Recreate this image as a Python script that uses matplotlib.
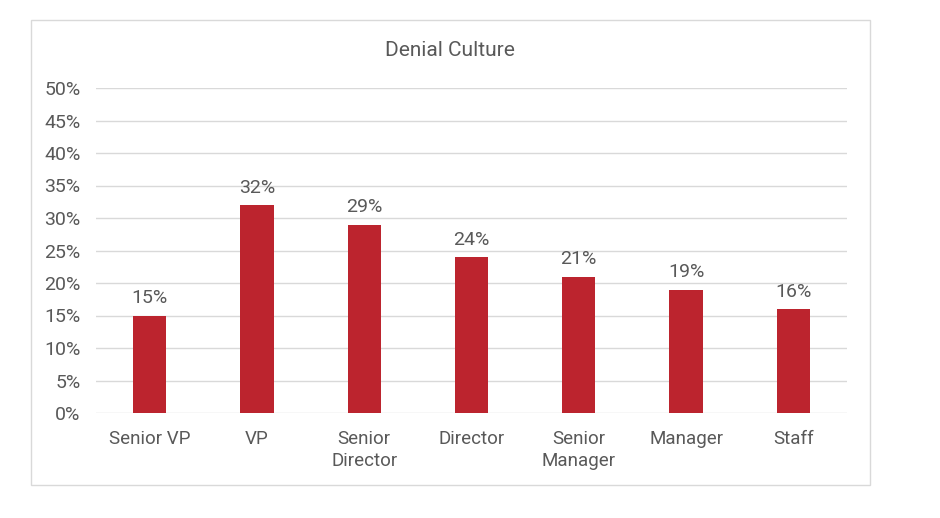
import matplotlib.pyplot as plt
from matplotlib.patches import Rectangle
from matplotlib.ticker import MultipleLocator, FuncFormatter

# Chart data
categories = ["Senior VP", "VP", "Senior\nDirector", "Director",
              "Senior\nManager", "Manager", "Staff"]
values = [15, 32, 29, 24, 21, 19, 16]

BAR_COLOR = "#BC242E"
TEXT_COLOR = "#595959"
GRID_COLOR = "#D9D9D9"

plt.rcParams["font.family"] = ["Roboto", "DejaVu Sans"]

fig = plt.figure(figsize=(9.4, 5.18), dpi=100)
fig.patch.set_facecolor("white")

# Outer chart border
fig.patches.append(Rectangle((31 / 940, 1 - 485 / 518), 839 / 940, 465 / 518,
                             transform=fig.transFigure, fill=False,
                             edgecolor=GRID_COLOR, linewidth=1.0))

ax = fig.add_axes([96 / 940, 1 - 413 / 518, 751 / 940, 325 / 518])

x = range(len(categories))
bars = ax.bar(x, values, width=0.31, color=BAR_COLOR, zorder=3)

for b, v in zip(bars, values):
    ax.annotate(f"{v}%", (b.get_x() + b.get_width() / 2, v),
                xytext=(0, 6), textcoords="offset points",
                ha="center", va="bottom", fontsize=14, color=TEXT_COLOR)

ax.set_ylim(0, 50)
ax.set_xlim(-0.5, len(categories) - 0.5)
ax.yaxis.set_major_locator(MultipleLocator(5))
ax.yaxis.set_major_formatter(FuncFormatter(lambda v, p: f"{v:.0f}%"))
ax.grid(axis="y", color=GRID_COLOR, linewidth=1.0, zorder=0)

ax.set_xticks(list(x))
ax.set_xticklabels(categories, fontsize=13.5, color=TEXT_COLOR, linespacing=1.3)
ax.tick_params(axis="x", length=0, pad=12)
ax.tick_params(axis="y", length=0, pad=11, labelsize=14, labelcolor=TEXT_COLOR)
for s in ax.spines.values():
    s.set_visible(False)

fig.text(450 / 940, 1 - 50 / 518, "Denial Culture", ha="center", va="center",
         fontsize=15, color=TEXT_COLOR)

fig.savefig("out.png", dpi=100, facecolor="white")
